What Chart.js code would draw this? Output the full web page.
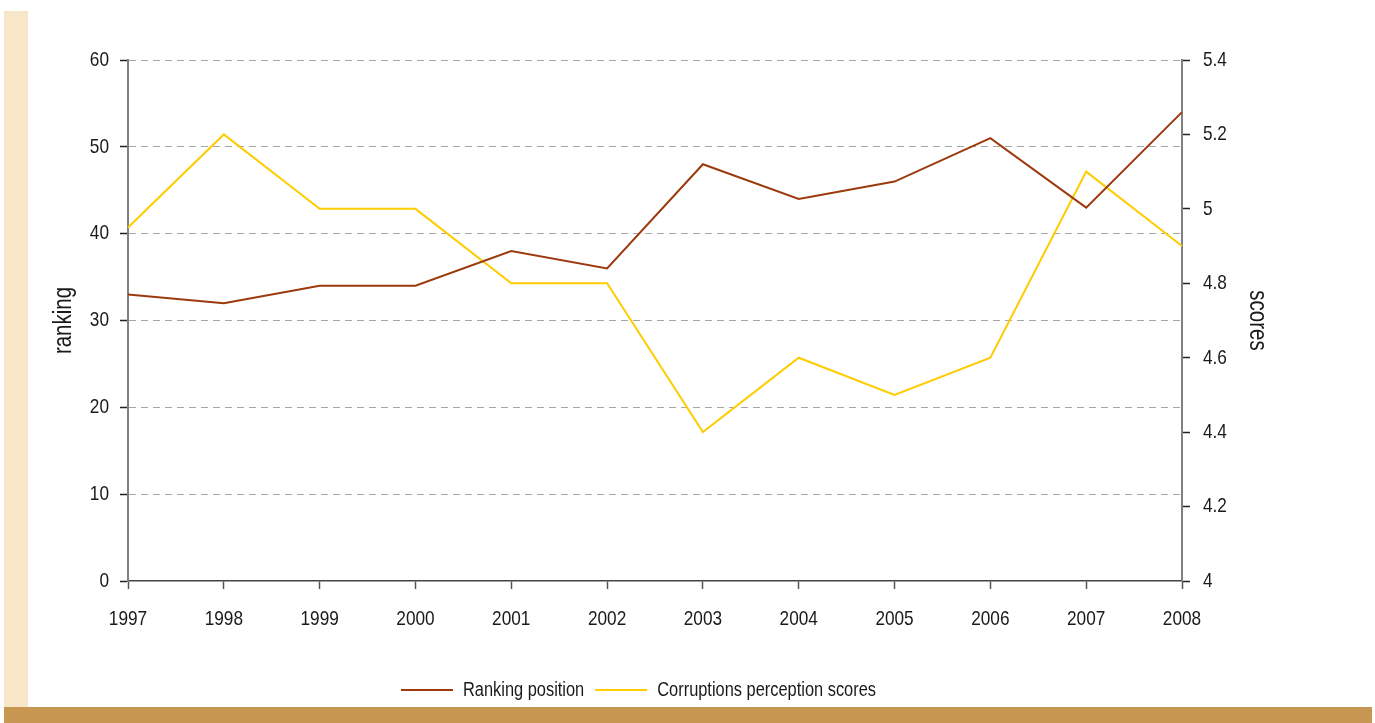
<!DOCTYPE html>
<html>
<head>
<meta charset="utf-8">
<script src="https://cdn.jsdelivr.net/npm/chart.js@4/dist/chart.umd.min.js"></script>
<style>
  html, body { margin: 0; padding: 0; background: #fff; }
  body { width: 1375px; height: 723px; position: relative; overflow: hidden; }
  .side-strip { position: absolute; left: 4px; top: 11px; width: 24px; height: 696px; background: #f8e6c8; }
  .bottom-bar { position: absolute; left: 4px; top: 707px; width: 1368px; height: 16px; background: #c79751; }
  #chartWrap { position: absolute; left: 0; top: 0; width: 1375px; height: 723px; }
</style>
</head>
<body>
<div class="side-strip"></div>
<div class="bottom-bar"></div>
<div id="chartWrap"><canvas id="rankChart"></canvas></div>
<script>
// ---------- data ----------
const years = ['1997', '1998', '1999', '2000', '2001', '2002', '2003', '2004', '2005', '2006', '2007', '2008'];
const rankingPosition = [33, 32, 34, 34, 38, 36, 48, 44, 46, 51, 43, 54];
const perceptionScores = [4.95, 5.2, 5.0, 5.0, 4.8, 4.8, 4.4, 4.6, 4.5, 4.6, 5.1, 4.9];

// ---------- style ----------
const brown = '#9c3a0e';
const yellow = '#ffcc00';
const fontFamily = "'Liberation Sans', Arial, sans-serif";
const textColor = '#1a1a1a';
const gridColor = '#a6a6a6';

// narrow lettering: squeeze every text run horizontally (measure + draw stay in sync)
const SQUEEZE = 0.82;
const canvas = document.getElementById('rankChart');
const ctx2d = canvas.getContext('2d');
const rawMeasure = ctx2d.measureText.bind(ctx2d);
const rawFill = ctx2d.fillText.bind(ctx2d);
ctx2d.measureText = (text) => {
  const m = rawMeasure(text);
  return {
    width: m.width * SQUEEZE,
    actualBoundingBoxAscent: m.actualBoundingBoxAscent,
    actualBoundingBoxDescent: m.actualBoundingBoxDescent,
    actualBoundingBoxLeft: m.actualBoundingBoxLeft * SQUEEZE,
    actualBoundingBoxRight: m.actualBoundingBoxRight * SQUEEZE,
  };
};
ctx2d.fillText = (text, x, y, maxWidth) => {
  const w = rawMeasure(text).width * SQUEEZE;
  rawFill(text, x, y, maxWidth === undefined ? w : Math.min(maxWidth, w));
};

// legend: draw a thin line instead of a box
function lineLabels(chart) {
  const items = Chart.defaults.plugins.legend.labels.generateLabels(chart);
  items.forEach((item) => {
    item.fillStyle = item.strokeStyle;
    item.lineWidth = 0;
  });
  return items;
}

const data = {
  labels: years,
  datasets: [
    {
      label: 'Ranking position',
      data: rankingPosition,
      borderColor: brown,
      backgroundColor: brown,
      borderWidth: 2,
      pointRadius: 0,
      tension: 0,
      yAxisID: 'yRank',
    },
    {
      label: 'Corruptions perception scores',
      data: perceptionScores,
      borderColor: yellow,
      backgroundColor: yellow,
      borderWidth: 2,
      pointRadius: 0,
      tension: 0,
      yAxisID: 'yScore',
    },
  ],
};

const config = {
  type: 'line',
  data: data,
  options: {
    responsive: true,
    maintainAspectRatio: false,
    animation: false,
    layout: {
      padding: { left: 4, right: 102, top: 60, bottom: 13 },
    },
    plugins: {
      legend: {
        position: 'bottom',
        labels: {
          boxWidth: 52,
          boxHeight: 2,
          padding: 11,
          color: textColor,
          font: { family: fontFamily, size: 20 },
          generateLabels: lineLabels,
        },
      },
      tooltip: { enabled: false },
    },
    scales: {
      x: {
        offset: false,
        grid: {
          drawOnChartArea: false,
          tickLength: 8,
          tickColor: '#555',
          tickWidth: 1.5,
        },
        border: { color: '#444', width: 1.5 },
        ticks: {
          color: textColor,
          font: { family: fontFamily, size: 21 },
          padding: 18,
          maxRotation: 0,
          autoSkip: false,
        },
        afterFit: (scale) => { scale.height = 88; },
      },
      yRank: {
        position: 'left',
        min: 0,
        max: 60,
        grid: {
          // no dashed line on top of the x axis
          color: (c) => (c.tick && c.tick.value === 0 ? 'rgba(0,0,0,0)' : gridColor),
          lineWidth: 1,
          tickLength: 8,
          tickColor: '#222',
          tickWidth: 1.5,
          tickBorderDash: [],
        },
        border: { color: '#808080', width: 2, dash: [7, 5] },
        ticks: {
          stepSize: 10,
          color: textColor,
          font: { family: fontFamily, size: 21 },
          padding: 11,
        },
        title: {
          display: true,
          text: 'ranking',
          color: textColor,
          font: { family: fontFamily, size: 25 },
          padding: { top: 45, bottom: 0 },
        },
        afterFit: (scale) => { scale.width = 124; },
      },
      yScore: {
        position: 'right',
        min: 4,
        max: 5.4,
        grid: {
          drawOnChartArea: false,
          tickLength: 8,
          tickColor: '#222',
          tickWidth: 1.5,
        },
        border: { color: '#808080', width: 2 },
        ticks: {
          stepSize: 0.2,
          color: textColor,
          font: { family: fontFamily, size: 21 },
          padding: 13,
          callback: (value) => String(Number(value.toFixed(1))),
        },
        title: {
          display: true,
          text: 'scores',
          color: textColor,
          font: { family: fontFamily, size: 25 },
          padding: { top: 1, bottom: 0 },
        },
        afterFit: (scale) => { scale.width = 91; },
      },
    },
  },
};

const rankChart = new Chart(canvas, config);
</script>
</body>
</html>
